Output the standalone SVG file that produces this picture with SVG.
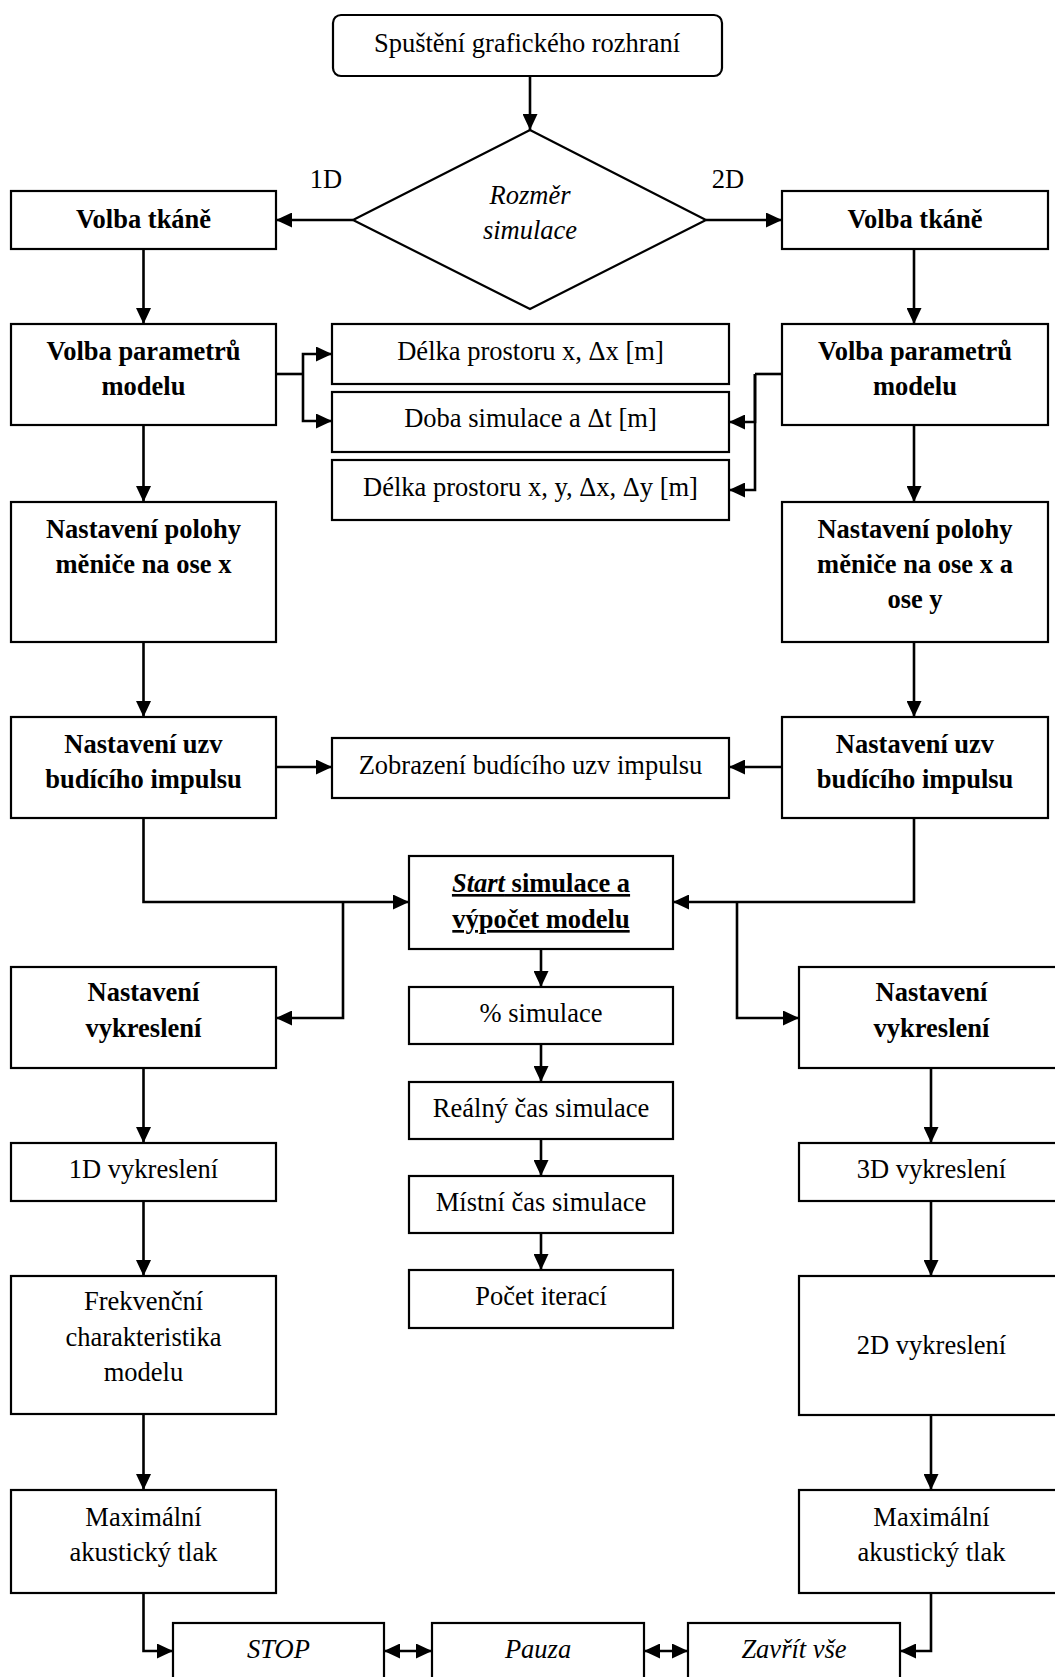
<svg xmlns="http://www.w3.org/2000/svg" width="1055" height="1677" viewBox="0 0 1055 1677">
<defs>
<style>
.box{fill:#fff;stroke:#000;stroke-width:2.2}
.c{fill:none;stroke:#000;stroke-width:2.6}
text{font-family:"Liberation Serif","Times New Roman",serif;font-size:26.5px;fill:#000;text-anchor:middle}
.b{font-weight:bold}
.i{font-style:italic}
.u{text-decoration:underline}
</style>
<marker id="ah" viewBox="0 0 16 15" refX="16" refY="7.5" markerWidth="16" markerHeight="15" orient="auto-start-reverse" markerUnits="userSpaceOnUse">
<path d="M0,0 L16,7.5 L0,15 z" fill="#000"/>
</marker>
</defs>
<rect width="1055" height="1677" fill="#fff"/>

<g id="connectors">
<path class="c" d="M530,76 V130" marker-end="url(#ah)"/>
<path class="c" d="M353,220 H276" marker-end="url(#ah)"/>
<path class="c" d="M706,220 H782" marker-end="url(#ah)"/>
<path class="c" d="M143.5,249 V324" marker-end="url(#ah)"/>
<path class="c" d="M914,249 V324" marker-end="url(#ah)"/>
<path class="c" d="M276,374 H303"/>
<path class="c" d="M303,374 V354 H332" marker-end="url(#ah)"/>
<path class="c" d="M303,374 V421 H332" marker-end="url(#ah)"/>
<path class="c" d="M782,374 H755"/>
<path class="c" d="M755,374 V422 H729" marker-end="url(#ah)"/>
<path class="c" d="M755,374 V490 H729" marker-end="url(#ah)"/>
<path class="c" d="M143.5,425 V502" marker-end="url(#ah)"/>
<path class="c" d="M914,425 V502" marker-end="url(#ah)"/>
<path class="c" d="M143.5,642 V717" marker-end="url(#ah)"/>
<path class="c" d="M914,642 V717" marker-end="url(#ah)"/>
<path class="c" d="M276,767 H332" marker-end="url(#ah)"/>
<path class="c" d="M782,767 H729" marker-end="url(#ah)"/>
<path class="c" d="M143.5,818 V902 H409" marker-end="url(#ah)"/>
<path class="c" d="M343,902 V1018 H276" marker-end="url(#ah)"/>
<path class="c" d="M914,818 V902 H673" marker-end="url(#ah)"/>
<path class="c" d="M737,902 V1018 H799" marker-end="url(#ah)"/>
<path class="c" d="M541,949 V987" marker-end="url(#ah)"/>
<path class="c" d="M541,1044 V1082" marker-end="url(#ah)"/>
<path class="c" d="M541,1139 V1176" marker-end="url(#ah)"/>
<path class="c" d="M541,1233 V1270" marker-end="url(#ah)"/>
<path class="c" d="M143.5,1068 V1143" marker-end="url(#ah)"/>
<path class="c" d="M143.5,1201 V1276" marker-end="url(#ah)"/>
<path class="c" d="M143.5,1414 V1490" marker-end="url(#ah)"/>
<path class="c" d="M143.5,1593 V1651 H173" marker-end="url(#ah)"/>
<path class="c" d="M931,1068 V1143" marker-end="url(#ah)"/>
<path class="c" d="M931,1201 V1276" marker-end="url(#ah)"/>
<path class="c" d="M931,1415 V1490" marker-end="url(#ah)"/>
<path class="c" d="M931,1593 V1651 H900" marker-end="url(#ah)"/>
<path class="c" d="M384,1651 H432" marker-start="url(#ah)" marker-end="url(#ah)"/>
<path class="c" d="M644,1651 H688" marker-start="url(#ah)" marker-end="url(#ah)"/>
</g>

<g id="label-1D"><text x="326" y="188">1D</text></g>
<g id="label-2D"><text x="728" y="188">2D</text></g>

<g id="start"><rect class="box" x="333" y="15" width="389" height="61" rx="8"/><text x="527" y="52">Spuštění grafického rozhraní</text></g>
<g id="rozmer"><polygon class="box" points="530,130 706,220 530,309 353,220"/><text class="i" x="530" y="204">Rozměr</text><text class="i" x="530" y="239">simulace</text></g>

<g id="tkan-1d"><rect class="box" x="11" y="191" width="265" height="58"/><text class="b" x="143.5" y="228">Volba tkáně</text></g>
<g id="tkan-2d"><rect class="box" x="782" y="191" width="266" height="58"/><text class="b" x="915" y="228">Volba tkáně</text></g>

<g id="param-1d"><rect class="box" x="11" y="324" width="265" height="101"/><text class="b" x="143.5" y="360">Volba parametrů</text><text class="b" x="143.5" y="395">modelu</text></g>
<g id="param-2d"><rect class="box" x="782" y="324" width="266" height="101"/><text class="b" x="915" y="360">Volba parametrů</text><text class="b" x="915" y="395">modelu</text></g>

<g id="delka-x"><rect class="box" x="332" y="324" width="397" height="60"/><text x="530.5" y="360">Délka prostoru x, Δx [m]</text></g>
<g id="doba"><rect class="box" x="332" y="392" width="397" height="60"/><text x="530.5" y="427">Doba simulace a Δt [m]</text></g>
<g id="delka-xy"><rect class="box" x="332" y="460" width="397" height="60"/><text x="530.5" y="496">Délka prostoru x, y, Δx, Δy [m]</text></g>

<g id="poloha-1d"><rect class="box" x="11" y="502" width="265" height="140"/><text class="b" x="143.5" y="538">Nastavení polohy</text><text class="b" x="143.5" y="573">měniče na ose x</text></g>
<g id="poloha-2d"><rect class="box" x="782" y="502" width="266" height="140"/><text class="b" x="915" y="538">Nastavení polohy</text><text class="b" x="915" y="573">měniče na ose x a</text><text class="b" x="915" y="608">ose y</text></g>

<g id="uzv-1d"><rect class="box" x="11" y="717" width="265" height="101"/><text class="b" x="143.5" y="753">Nastavení uzv</text><text class="b" x="143.5" y="788">budícího impulsu</text></g>
<g id="uzv-2d"><rect class="box" x="782" y="717" width="266" height="101"/><text class="b" x="915" y="753">Nastavení uzv</text><text class="b" x="915" y="788">budícího impulsu</text></g>
<g id="zobrazeni"><rect class="box" x="332" y="738" width="397" height="60"/><text x="530.5" y="774">Zobrazení budícího uzv impulsu</text></g>

<g id="start-sim"><rect class="box" x="409" y="856" width="264" height="93"/><text class="b u" x="541" y="892"><tspan class="i">Start</tspan> simulace a</text><text class="b u" x="541" y="928">výpočet modelu</text></g>

<g id="vykresleni-1d"><rect class="box" x="11" y="967" width="265" height="101"/><text class="b" x="143.5" y="1001">Nastavení</text><text class="b" x="143.5" y="1037">vykreslení</text></g>
<g id="vykresleni-2d"><rect class="box" x="799" y="967" width="266" height="101"/><text class="b" x="931.5" y="1001">Nastavení</text><text class="b" x="931.5" y="1037">vykreslení</text></g>

<g id="procenta"><rect class="box" x="409" y="987" width="264" height="57"/><text x="541" y="1022">% simulace</text></g>
<g id="realny"><rect class="box" x="409" y="1082" width="264" height="57"/><text x="541" y="1117">Reálný čas simulace</text></g>
<g id="mistni"><rect class="box" x="409" y="1176" width="264" height="57"/><text x="541" y="1211">Místní čas simulace</text></g>
<g id="pocet"><rect class="box" x="409" y="1270" width="264" height="58"/><text x="541" y="1305">Počet iterací</text></g>

<g id="vykr-1d"><rect class="box" x="11" y="1143" width="265" height="58"/><text x="143.5" y="1178">1D vykreslení</text></g>
<g id="vykr-3d"><rect class="box" x="799" y="1143" width="266" height="58"/><text x="931.5" y="1178">3D vykreslení</text></g>

<g id="frekvencni"><rect class="box" x="11" y="1276" width="265" height="138"/><text x="143.5" y="1310">Frekvenční</text><text x="143.5" y="1346">charakteristika</text><text x="143.5" y="1381">modelu</text></g>
<g id="vykr-2d"><rect class="box" x="799" y="1276" width="266" height="139"/><text x="931.5" y="1354">2D vykreslení</text></g>

<g id="max-1d"><rect class="box" x="11" y="1490" width="265" height="103"/><text x="143.5" y="1526">Maximální</text><text x="143.5" y="1561">akustický tlak</text></g>
<g id="max-2d"><rect class="box" x="799" y="1490" width="266" height="103"/><text x="931.5" y="1526">Maximální</text><text x="931.5" y="1561">akustický tlak</text></g>

<g id="stop"><rect class="box" x="173" y="1623" width="211" height="70"/><text class="i" x="278.5" y="1658">STOP</text></g>
<g id="pauza"><rect class="box" x="432" y="1623" width="212" height="70"/><text class="i" x="538" y="1658">Pauza</text></g>
<g id="zavrit"><rect class="box" x="688" y="1623" width="212" height="70"/><text class="i" x="794" y="1658">Zavřít vše</text></g>
</svg>
